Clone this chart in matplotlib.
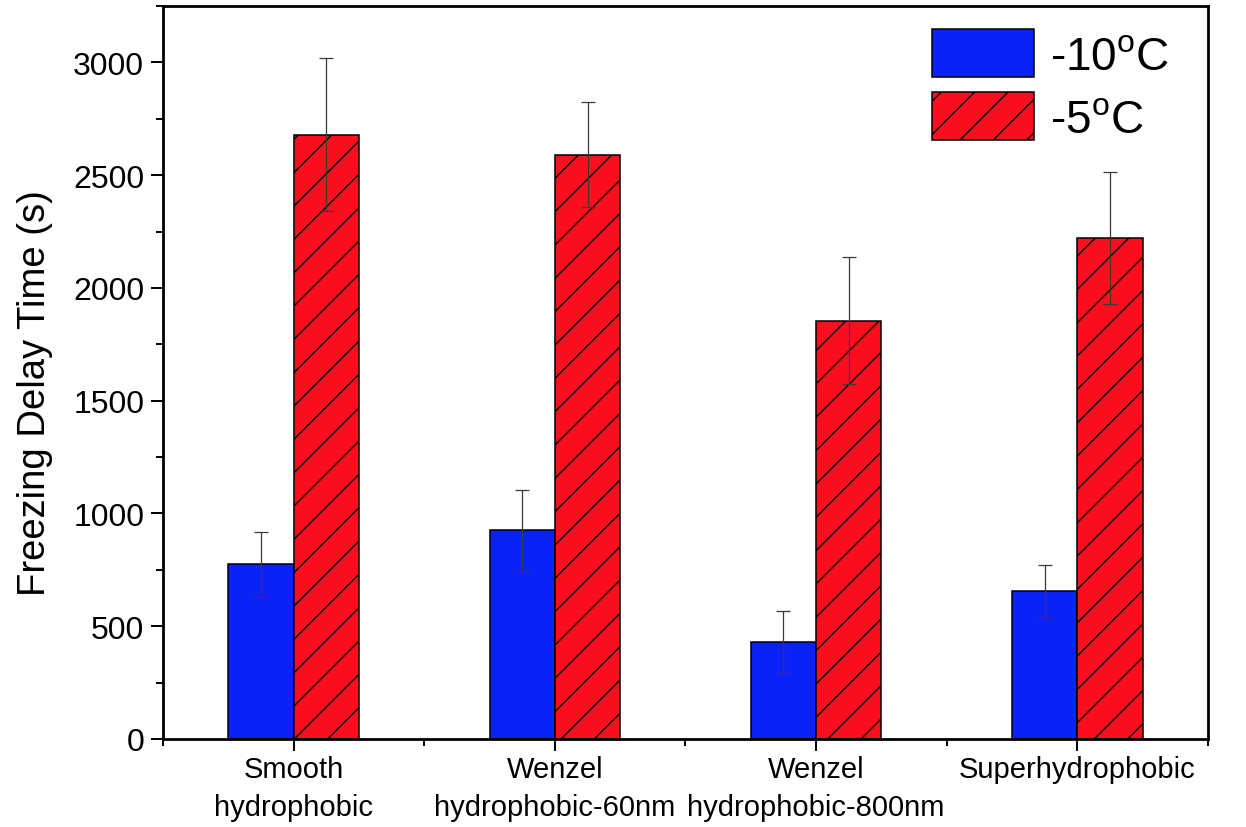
import matplotlib
matplotlib.use("Agg")
import matplotlib.pyplot as plt
from matplotlib.ticker import MultipleLocator, FixedLocator
import numpy as np

plt.rcParams["font.family"] = ["Liberation Sans", "DejaVu Sans"]
plt.rcParams["hatch.linewidth"] = 1.0

# Freezing delay time per surface, mean and error (s).
surfaces = ["Smooth\nhydrophobic", "Wenzel\nhydrophobic-60nm",
            "Wenzel\nhydrophobic-800nm", "Superhydrophobic"]
delay_m10 = [775, 925, 430, 655]
err_m10 = [145, 178, 137, 115]
delay_m5 = [2680, 2590, 1855, 2220]
err_m5 = [340, 233, 280, 293]

x = np.arange(1, len(surfaces) + 1)
width = 0.25

fig = plt.figure(figsize=(12.46, 8.28), dpi=100)
ax = fig.add_axes([0.1308, 0.1063, 0.9695 - 0.1308, 0.9915 - 0.1063])

ekw = dict(ecolor="#3a3a3a", elinewidth=0.9, capsize=4.7, capthick=0.9)
ax.bar(x - width / 2, delay_m10, width, yerr=err_m10, color="#0b22f7",
       edgecolor="black", linewidth=1.1, error_kw=ekw,
       label="-10$^\\mathregular{o}$C")
ax.bar(x + width / 2, delay_m5, width, yerr=err_m5, color="#fb0f1e",
       edgecolor="black", linewidth=1.1, hatch="/", error_kw=ekw,
       label="-5$^\\mathregular{o}$C")

ax.set_xlim(0.5, 4.5)
ax.set_ylim(0, 3250)
ax.yaxis.set_major_locator(MultipleLocator(500))
ax.yaxis.set_minor_locator(MultipleLocator(250))
ax.set_xticks(x)
ax.set_xticklabels(surfaces, linespacing=1.45)
ax.xaxis.set_minor_locator(FixedLocator(np.arange(0.5, 4.6, 1.0)))

ax.tick_params(which="major", direction="out", length=8.5, width=1.4,
               top=False, right=False, pad=5)
ax.tick_params(which="minor", direction="out", length=5, width=1.4,
               top=False, right=False)
ax.tick_params(axis="y", labelsize=23)
ax.tick_params(axis="x", labelsize=21, pad=3)
for s in ax.spines.values():
    s.set_linewidth(2)

ax.set_ylabel("Freezing Delay Time (s)", fontsize=27.5)
ax.yaxis.set_label_coords(-0.105, 0.474)

ax.legend(loc="upper right", bbox_to_anchor=(0.994, 1.012), frameon=False,
          fontsize=33, handlelength=2.23, handleheight=1.22,
          handletextpad=0.35, labelspacing=0.3, borderpad=0.2)

fig.savefig("out.png", dpi=100, facecolor="white")
